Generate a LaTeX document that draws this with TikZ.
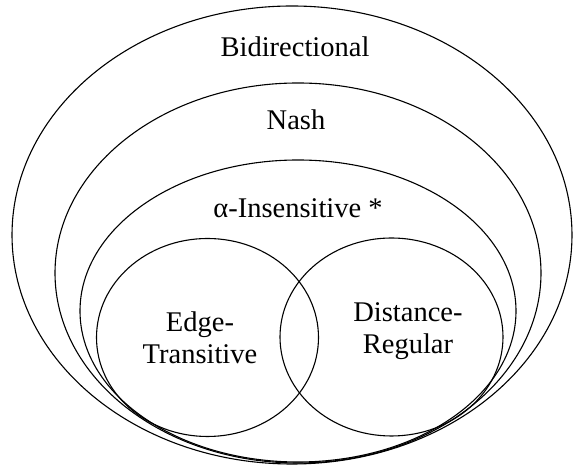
\documentclass[tikz,border=0pt]{standalone}
\usepackage{fontspec}
\setmainfont{Liberation Serif}
\newfontfamily\labelfont{Liberation Serif}
\usetikzlibrary{shapes.geometric}
\begin{document}
\begin{tikzpicture}[x=1pt,y=1pt,
  setshape/.style={draw=black, line width=1.1pt, ellipse, inner sep=0pt},
  lbl/.style={font=\labelfont\fontsize{28.5}{32}\selectfont, align=center, inner sep=0pt}]
\fill[white] (0,0) rectangle (574,468);
\useasboundingbox (0,0) rectangle (574,468);
\node[setshape, minimum width=560, minimum height=458] (bidir) at (292,233) {};
\node[setshape, minimum width=486, minimum height=380] (nash) at (298,195) {};
\node[setshape, minimum width=436, minimum height=302] (alpha) at (298,157) {};
\node[setshape, minimum width=222, minimum height=198] (edge) at (207.5,130.5) {};
\node[setshape, minimum width=223, minimum height=198] (dist) at (391.5,131) {};
\node[lbl] (tbidir) at (295,421) {Bidirectional};
\node[lbl] (tnash) at (296,348) {Nash};
\node[lbl] (talpha) at (298,260) {α-Insensitive *};
\node[lbl] (tedge) at (200,130) {Edge-\\Transitive};
\node[lbl] (tdist) at (408,136.5) {Distance-\\Regular};
\end{tikzpicture}
\end{document}
